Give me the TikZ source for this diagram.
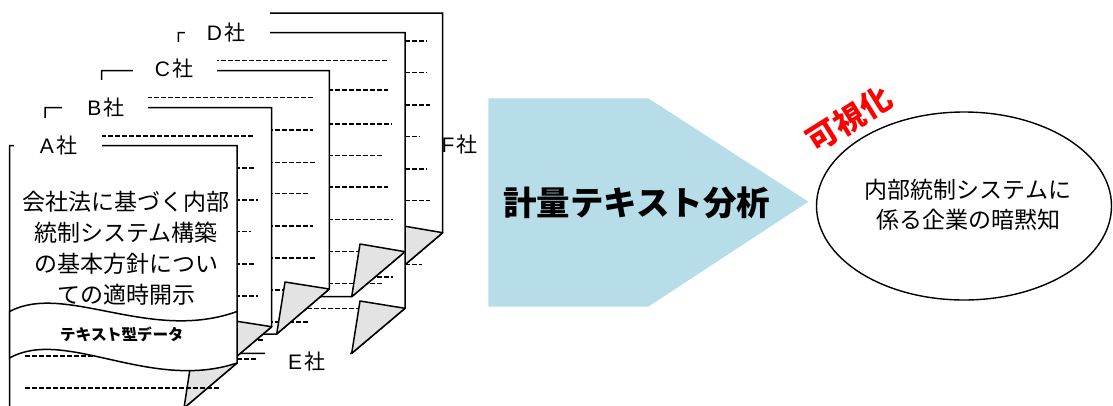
\documentclass[tikz,border=0pt]{standalone}
\usepackage{fontspec}
\setmainfont{Noto Sans CJK JP}
\newfontfamily\latn{Liberation Sans}
\usetikzlibrary{shapes.geometric}
\definecolor{arrowblue}{HTML}{B7DDE8}
\definecolor{flapgray}{HTML}{E3E3E3}
\tikzset{
  pg/.style={draw, fill=white, line width=1.5pt, line join=miter},
  flp/.style={draw, fill=flapgray, line width=1.5pt, line join=round},
  tl/.style={line width=1.35pt, dash pattern=on 4.5pt off 2.5pt},
  lbox/.style={fill=white, draw=none},
  lbl/.style={font=\fontsize{21}{21}\selectfont, inner sep=0pt},
}
\newcommand\cmp[1]{{\latn #1}\hspace{2pt}社}
\begin{document}
\begin{tikzpicture}[x=1pt, y=-1pt]
\useasboundingbox (0,0) rectangle (1113,405);
\clip (0,0) rectangle (1113,405);

% ---------- page F (back) ----------
\path[pg] (200,13) -- (442.7,13) -- (442.7,232.7) -- (389.7,277.7) -- (200,277.7) -- cycle;
\foreach \yy/\xe in {41/427, 72.7/427, 105/430, 136.7/420, 169/427, 200.7/430, 232.5/425, 264.5/422}
  \draw[tl] (300,\yy) -- (\xe,\yy);
\path[flp] (397.7,225) -- (442.7,232.7) -- (389.7,277.7) -- cycle;
\node[lbl, anchor=west] (lF) at (441.5,145) {\cmp{F}};

% ---------- page E ----------
\path[pg] (230,60) -- (405,60) -- (405,308.3) -- (351.7,353.3) -- (230,353.3) -- cycle;
\foreach \yy/\xe in {245/393, 277/393, 308.3/358, 340/330, 359/257}
  \draw[tl] (237,\yy) -- (\xe,\yy);
\path[flp] (360,301) -- (405,308.3) -- (351.7,353.3) -- cycle;
\path[lbox] (265,334) rectangle (350,384);
\node[lbl] (lE) at (306.7,361.7) {\cmp{E}};

% ---------- page D ----------
\path[pg] (178.3,32.5) -- (405,32.5) -- (405,251.7) -- (351.7,296.7) -- (178.3,296.7) -- cycle;
\draw[tl] (200,60.7) -- (388,60.7);
\foreach \yy/\xe in {90/388, 124/392, 155.5/384, 187/388, 219.3/393, 251.7/390, 283.3/383}
  \draw[tl] (300,\yy) -- (\xe,\yy);
\path[flp] (360,244) -- (405,251.7) -- (351.7,296.7) -- cycle;
\path[lbox] (185,5) rectangle (270,55);
\node[lbl] (lD) at (226,33) {\cmp{D}};

% ---------- page C ----------
\path[pg] (101.7,70.7) -- (329.3,70.7) -- (329.3,289) -- (276.7,334) -- (101.7,334) -- cycle;
\draw[tl] (140,97.7) -- (313,97.7);
\foreach \yy/\xe in {130/313, 162.3/317, 193.7/309, 226/313, 258/317, 290/310, 322/308}
  \draw[tl] (240,\yy) -- (\xe,\yy);
\path[flp] (285,282) -- (329.3,289) -- (276.7,334) -- cycle;
\path[lbox] (133,42) rectangle (217,91);
\node[lbl] (lC) at (174,69) {\cmp{C}};

% ---------- page B ----------
\path[pg] (45,107.7) -- (271.7,107.7) -- (271.7,326.7) -- (218.7,371.7) -- (45,371.7) -- cycle;
\draw[tl] (80,136) -- (255,136);
\foreach \yy/\xe in {168/255, 200/258, 231.7/251, 264/255, 296/258, 328/255}
  \draw[tl] (200,\yy) -- (\xe,\yy);
\path[flp] (226.7,319.7) -- (271.7,326.7) -- (218.7,371.7) -- cycle;
\path[lbox] (62,80) rectangle (148,130);
\node[lbl] (lB) at (106,108) {\cmp{B}};

% ---------- page A (front) ----------
\path[pg] (9.5,145.5) -- (237,145.5) -- (237,363) -- (184,408) -- (9.5,408) -- cycle;
\path[flp] (192,356) -- (237,363) -- (184,408) -- cycle;
\draw[tl] (25,356) -- (220,356);
\draw[tl] (25,388) -- (220,388);
\path[pg] (9.5,311.5) .. controls (65,282) and (150,343) .. (237,311.5)
  -- (237,363) .. controls (150,392) and (65,327) .. (9.5,358) -- cycle;
\node[font=\bfseries\fontsize{15.5}{15.5}\selectfont, inner sep=0pt, xslant=-0.15] (band) at (122,334) {テキスト型データ};
\path[lbox] (14,118) rectangle (102,168);
\node[lbl] (lA) at (58.5,146) {\cmp{A}};
\node[align=center, font=\fontsize{23}{31}\selectfont, inner sep=0pt] (body) at (126,248)
  {会社法に基づく内部\\統制システム構築\\の基本方針につい\\ての適時開示};

% ---------- analysis arrow ----------
\path[fill=arrowblue] (488.3,98.3) -- (648.3,98.3) -- (808.3,201.7) -- (648.3,306.7) -- (488.3,306.7) -- cycle;
\node[font=\bfseries\fontsize{33.5}{33.5}\selectfont, inner sep=0pt] (ana) at (636.7,202.5) {計量テキスト分析};

% ---------- result ellipse ----------
\node[ellipse, draw, line width=1.4pt, minimum width=295pt, minimum height=188pt, inner sep=0pt] (res) at (964,206) {};
\node[align=center, font=\fontsize{23}{30}\selectfont, inner sep=0pt] (restext) at (968,205)
  {内部統制システムに\\係る企業の暗黙知};
\node[text=red, font=\bfseries\fontsize{31}{31}\selectfont, rotate=32, inner sep=0pt] (vis) at (849,119) {可視化};
\end{tikzpicture}
\end{document}
